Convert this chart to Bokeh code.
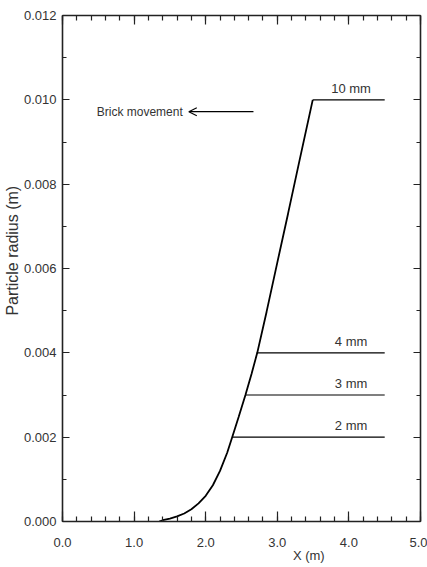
from bokeh.plotting import figure
from bokeh.models import (Range1d, LinearAxis, FixedTicker, Label, Arrow,
                          OpenHead, CustomJSTickFormatter)
from bokeh.embed import file_html
from bokeh.resources import INLINE

# Particle radius profile along the bed (X in m, radius in m)
curve_x = [1.35, 1.40, 1.50, 1.60, 1.70, 1.80, 1.90, 2.00, 2.10, 2.20,
           2.30, 2.37, 2.46, 2.555, 2.64, 2.72, 2.85, 3.00, 3.15, 3.30, 3.495]
curve_r = [0.0, 0.00003, 0.00007, 0.00012, 0.00019, 0.00029, 0.00043,
           0.00061, 0.00086, 0.00120, 0.00163, 0.00200, 0.00248, 0.00300,
           0.00350, 0.00400, 0.00497, 0.00614, 0.00730, 0.00848, 0.01000]

# Horizontal levels for the individual particle sizes
level_names = ["2 mm", "3 mm", "4 mm", "10 mm"]
level_r = [0.002, 0.003, 0.004, 0.010]
level_start = [2.37, 2.555, 2.72, 3.495]
level_end = 4.5
label_x = 4.03

x_ticks = [0.0, 1.0, 2.0, 3.0, 4.0, 5.0]
y_ticks = [0.000, 0.002, 0.004, 0.006, 0.008, 0.010, 0.012]

FONT = "Liberation Sans"
TXT = "#333333"
INK = "#222222"

p = figure(width=427, height=567, output_backend="svg", toolbar_location=None,
           x_range=Range1d(0, 5), y_range=Range1d(0, 0.012),
           min_border_left=60, min_border_right=7, min_border_top=15,
           min_border_bottom=46, x_axis_location=None, y_axis_location=None)
p.grid.visible = False
p.outline_line_color = None
p.background_fill_color = "white"


def style_axis(ax, major, minor, show_labels):
    ax.ticker = FixedTicker(ticks=major, minor_ticks=minor)
    ax.axis_line_width = 1.6
    ax.axis_line_color = INK
    ax.major_tick_line_color = INK
    ax.minor_tick_line_color = INK
    ax.major_tick_line_width = 1.2
    ax.minor_tick_line_width = 1.2
    ax.major_tick_out = 0
    ax.minor_tick_out = 0
    ax.major_label_text_font = FONT
    ax.major_label_text_font_size = "13px" if show_labels else "0px"
    ax.major_label_text_color = TXT if show_labels else None


x_minor = [round(0.2 * i, 1) for i in range(26)]
y_minor = [round(0.001 * i, 3) for i in range(13)]

xb = LinearAxis()
style_axis(xb, x_ticks, x_minor, True)
xb.major_tick_in = 10
xb.minor_tick_in = 5
xb.major_label_standoff = 16
xb.formatter = CustomJSTickFormatter(code="return tick.toFixed(1);")
p.add_layout(xb, "below")

# x-axis title, set off to the right between the 3.0 and 4.0 ticks
xtitle = LinearAxis(ticker=FixedTicker(ticks=[3.44], minor_ticks=[]),
                    major_label_overrides={3.44: "X (m)"})
xtitle.axis_line_color = None
xtitle.major_tick_line_color = None
xtitle.major_tick_in = 0
xtitle.major_tick_out = 0
xtitle.major_label_standoff = -2
xtitle.major_label_text_font = FONT
xtitle.major_label_text_font_size = "13px"
xtitle.major_label_text_color = TXT
p.add_layout(xtitle, "below")

xt = LinearAxis()
style_axis(xt, x_ticks, x_minor, False)
xt.major_tick_in = 9
xt.minor_tick_in = 5
p.add_layout(xt, "above")

yl = LinearAxis()
style_axis(yl, y_ticks, y_minor, True)
yl.major_tick_in = 7
yl.minor_tick_in = 4
yl.major_label_standoff = 6
yl.formatter = CustomJSTickFormatter(code="return tick.toFixed(3);")
yl.axis_label = "\u00a0" * 8 + "Particle radius (m)"
yl.axis_label_text_font = FONT
yl.axis_label_text_font_style = "normal"
yl.axis_label_text_font_size = "16px"
yl.axis_label_text_color = TXT
yl.axis_label_standoff = 0
p.add_layout(yl, "left")

yr = LinearAxis()
style_axis(yr, y_ticks, y_minor, False)
yr.major_tick_in = 7
yr.minor_tick_in = 4
p.add_layout(yr, "right")

# radius curve
p.line(curve_x, curve_r, line_color="black", line_width=1.8)

# size levels and their names
for name, r, x0 in zip(level_names, level_r, level_start):
    p.line([x0, level_end], [r, r], line_color="black", line_width=1.1)
    p.add_layout(Label(x=label_x, y=r, text=name, text_align="center",
                       text_baseline="bottom", y_offset=4,
                       text_font=FONT, text_font_size="13px",
                       text_color=TXT))

# direction of brick movement
p.add_layout(Label(x=1.68, y=0.00972, text="Brick movement",
                   text_align="right", text_baseline="middle",
                   text_font=FONT, text_font_size="12px", text_color=TXT))
p.add_layout(Arrow(x_start=2.667, y_start=0.00972, x_end=1.764, y_end=0.00972,
                   line_width=1.1, line_color="black",
                   end=OpenHead(size=8, line_width=1.1, line_color="black")))

open("out.html", "w").write(file_html(p, INLINE))
